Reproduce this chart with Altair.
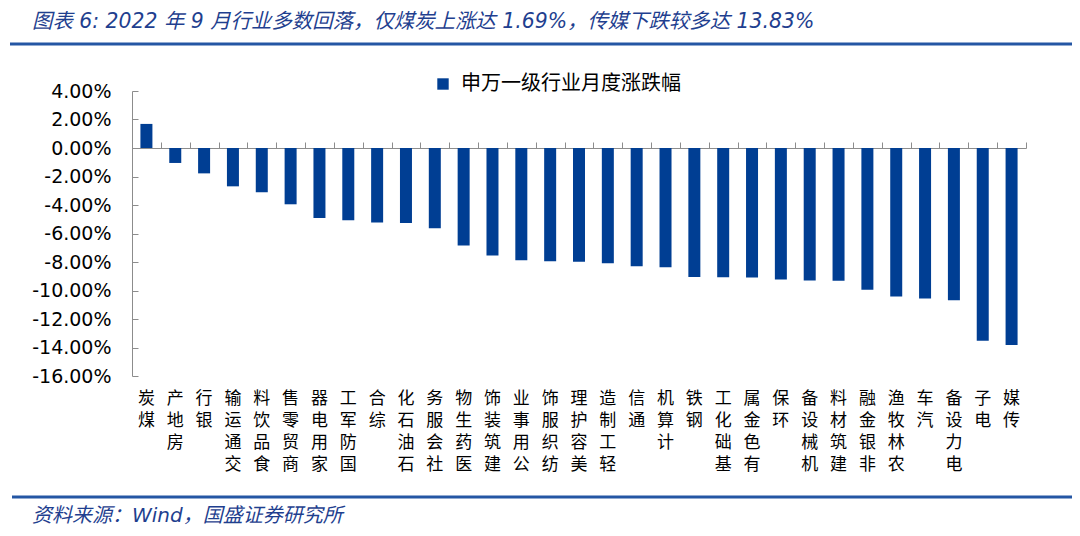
import altair as alt
import pandas as pd

categories = ["煤炭", "房地产", "银行", "交通运输", "食品饮料", "商贸零售", "家用电器", "国防军工",
              "综合", "石油石化", "社会服务", "医药生物", "建筑装饰", "公用事业", "纺织服饰", "美容护理",
              "轻工制造", "通信", "计算机", "钢铁", "基础化工", "有色金属", "环保", "机械设备",
              "建筑材料", "非银金融", "农林牧渔", "汽车", "电力设备", "电子", "传媒"]
values = [1.69, -1.05, -1.78, -2.69, -3.11, -3.95, -4.91, -5.07,
          -5.23, -5.26, -5.63, -6.85, -7.55, -7.87, -7.94, -7.99,
          -8.08, -8.29, -8.36, -9.06, -9.07, -9.09, -9.23, -9.30,
          -9.32, -9.95, -10.42, -10.56, -10.68, -13.53, -13.83]
series_name = "申万一级行业月度涨跌幅"
y_ticks = [-16, -14, -12, -10, -8, -6, -4, -2, 0, 2, 4]
title_text = "图表 6:  2022 年 9 月行业多数回落，仅煤炭上涨达 1.69%，传媒下跌较多达 13.83%"
source_text = "资料来源：Wind，国盛证券研究所"

W, H = 894, 285
BLUE = "#003E93"
LINE_BLUE = "#2456A4"
TEXT_BLUE = "#1F3F8F"
GRAY = "#8C8C8C"

df = pd.DataFrame({"cat": categories, "val": values, "s": series_name})

xscale = alt.Scale(paddingInner=0, paddingOuter=0)
yscale = alt.Scale(domain=[-16, 4], nice=False, zero=False)
ylab = "(datum.value < 0 ? '-' : '') + format(abs(datum.value), '.2f') + '%'"

bars = alt.Chart(df).mark_bar(size=12).encode(
    x=alt.X("cat:N", sort=categories, scale=xscale,
            axis=alt.Axis(orient="top", offset=-57, labels=False, title=None, grid=False,
                          domainColor=GRAY, tickColor=GRAY, tickSize=6, tickBand="extent")),
    y=alt.Y("val:Q", scale=yscale,
            axis=alt.Axis(orient="left", values=y_ticks, labelExpr=ylab, ticks=False,
                          domainColor=GRAY, labelPadding=21, title=None, grid=False,
                          labelFont="DejaVu Sans", labelFontSize=19, labelColor="#000000")),
    color=alt.Color("s:N", scale=alt.Scale(range=[BLUE]),
                    legend=alt.Legend(orient="none", legendX=301, legendY=-17, title=None,
                                      symbolType="square", symbolSize=130, symbolStrokeWidth=0,
                                      labelFont="Noto Sans CJK SC", labelFontSize=20,
                                      labelColor="#000000", labelOffset=8, padding=0,
                                      labelLimit=400)),
)

labels = alt.Chart(df).mark_point(opacity=0).encode(
    x=alt.X("cat:N", sort=categories, scale=xscale,
            axis=alt.Axis(orient="bottom", domain=False, ticks=False, title=None, grid=False,
                          labelAngle=0, labelExpr="reverse(split(datum.label, ''))",
                          labelBaseline="top", labelPadding=14, labelOverlap=False,
                          labelFont="Noto Sans CJK SC", labelFontSize=17, labelLineHeight=22,
                          labelColor="#000000", labelLimit=0, labelBound=False)),
    y=alt.Y("val:Q", scale=yscale,
            axis=alt.Axis(orient="right", offset=-W, values=y_ticks, labels=False,
                          domain=False, tickColor=GRAY, tickSize=6, title=None, grid=False)),
)

one = pd.DataFrame({"t": [title_text]})
title = alt.Chart(one).mark_text(
    align="left", baseline="middle", font="DejaVu Sans, Noto Sans CJK SC", fontSize=20.4,
    fontStyle="italic", color=TEXT_BLUE
).encode(x=alt.value(-100), y=alt.value(-69), text="t:N")

src = alt.Chart(pd.DataFrame({"t": [source_text]})).mark_text(
    align="left", baseline="middle", font="DejaVu Sans, Noto Sans CJK SC", fontSize=20,
    fontStyle="italic", color=TEXT_BLUE
).encode(x=alt.value(-100), y=alt.value(425), text="t:N")

top_line = alt.Chart(pd.DataFrame({"k": [1]})).mark_rule(color=LINE_BLUE, strokeWidth=3).encode(
    x=alt.value(-122), x2=alt.value(W + 60), y=alt.value(-47))
bot_line = alt.Chart(pd.DataFrame({"k": [1]})).mark_rule(color=LINE_BLUE, strokeWidth=3).encode(
    x=alt.value(-120), x2=alt.value(W + 60), y=alt.value(406))

chart = alt.layer(bars, labels, title, src, top_line, bot_line).resolve_axis(
    x="independent", y="independent"
).properties(
    width=W, height=H,
    padding={"left": 124, "top": 83, "right": 46, "bottom": 152},
    autosize=alt.AutoSizeParams(type="none"),
    background="white",
).configure_view(stroke=None)

chart.save("out.html", embed_options={"renderer": "svg", "actions": False})
